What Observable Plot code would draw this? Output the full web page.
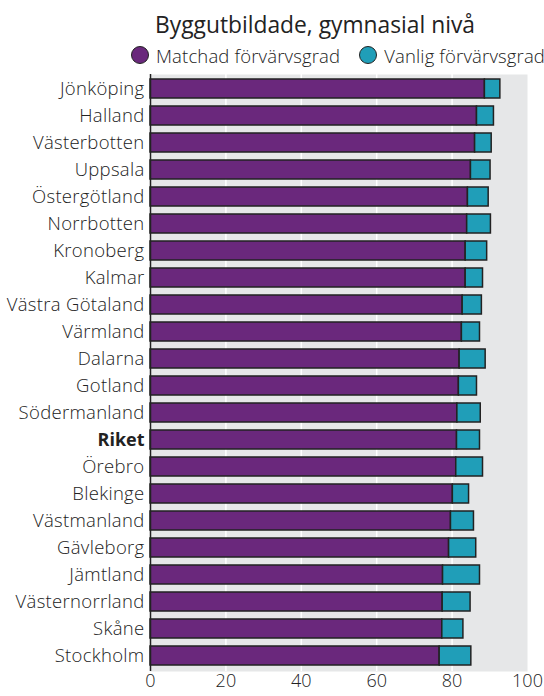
<!DOCTYPE html>
<html>
<head>
<meta charset="utf-8">
<script src="https://cdn.jsdelivr.net/npm/d3@7"></script>
<script src="https://cdn.jsdelivr.net/npm/@observablehq/plot@0.6"></script>
<style>
  body { margin: 0; background: #fff; font-family: "Open Sans", sans-serif; color: #222; }
  #title { height: 42px; box-sizing: border-box; padding-left: 155px; padding-top: 11px; font-size: 22.8px; line-height: 28px; white-space: nowrap; }
  #legend { height: 26px; display: flex; align-items: center; padding-left: 131px; font-size: 18.5px; font-weight: 300; letter-spacing: 0.15px; white-space: nowrap; }
  .sw { display: inline-block; width: 16px; height: 16px; border-radius: 50%; border: 1.5px solid #222; margin-right: 7px; }
  .item { display: flex; align-items: center; margin-right: 19px; }
  .ylab text { letter-spacing: 0.3px; }
</style>
</head>
<body>
<div id="title">Byggutbildade, gymnasial nivå</div>
<div id="legend"></div>
<div id="chart"></div>
<script>
const regions = ["Jönköping","Halland","Västerbotten","Uppsala","Östergötland","Norrbotten","Kronoberg","Kalmar","Västra Götaland","Värmland","Dalarna","Gotland","Södermanland","Riket","Örebro","Blekinge","Västmanland","Gävleborg","Jämtland","Västernorrland","Skåne","Stockholm"];
const matchad = [88.7,86.6,86.1,85.0,84.2,84.0,83.6,83.6,82.8,82.6,82.0,81.8,81.4,81.3,81.1,80.2,79.7,79.2,77.6,77.5,77.4,76.7];
const vanlig  = [92.8,91.1,90.5,90.2,89.7,90.3,89.3,88.2,87.9,87.4,88.9,86.6,87.6,87.4,88.2,84.5,85.8,86.4,87.4,84.9,83.0,85.1];
const seriesNames = ["Matchad förvärvsgrad","Vanlig förvärvsgrad"];
const seriesColors = ["#6a287c","#209eb8"];
const xTicks = [0,20,40,60,80,100];
const gridTicks = [20,40,60,80];

const rows = regions.map((r,i) => ({region: r, matchad: matchad[i], vanlig: vanlig[i]}));

const legend = document.getElementById("legend");
seriesNames.forEach((n,i) => {
  const it = document.createElement("span");
  it.className = "item";
  it.innerHTML = `<span class="sw" style="background:${seriesColors[i]}"></span>${n}`;
  legend.appendChild(it);
});

const plot = Plot.plot({
  width: 544,
  height: 628,
  marginLeft: 150,
  marginRight: 17,
  marginTop: 6,
  marginBottom: 25,
  style: {fontFamily: "Open Sans, sans-serif", fontSize: "18px", fontWeight: 300, color: "#222", background: "transparent", overflow: "visible"},
  x: {domain: [0,100]},
  y: {domain: regions, paddingInner: 0.28, paddingOuter: 0.12},
  marks: [
    Plot.frame({fill: "#e6e7e8", stroke: null}),
    Plot.ruleX(gridTicks, {stroke: "#fff", strokeWidth: 1.5}),
    Plot.barX(rows, {y: "region", x1: 0, x2: "matchad", fill: seriesColors[0], stroke: "#222", strokeWidth: 1.5}),
    Plot.barX(rows, {y: "region", x1: "matchad", x2: "vanlig", fill: seriesColors[1], stroke: "#222", strokeWidth: 1.5}),
    Plot.ruleX([0], {stroke: "#222", strokeWidth: 1.5}),
    Plot.ruleY([0], {frameAnchor: "bottom", stroke: "#222", strokeWidth: 1.5}),
    Plot.axisX(xTicks, {tickSize: 0, tickPadding: 3, label: null, fill: "#222", fontSize: 18, fontWeight: 300}),
    Plot.axisY(regions.filter(d => d !== "Riket"), {tickSize: 0, tickPadding: 6, label: null, fill: "#222", fontSize: 18.5, fontWeight: 300, className: "ylab"}),
    Plot.axisY(["Riket"], {tickSize: 0, tickPadding: 6, label: null, fill: "#222", fontSize: 18, fontWeight: "bold"})
  ]
});
document.getElementById("chart").appendChild(plot);
</script>
</body>
</html>
